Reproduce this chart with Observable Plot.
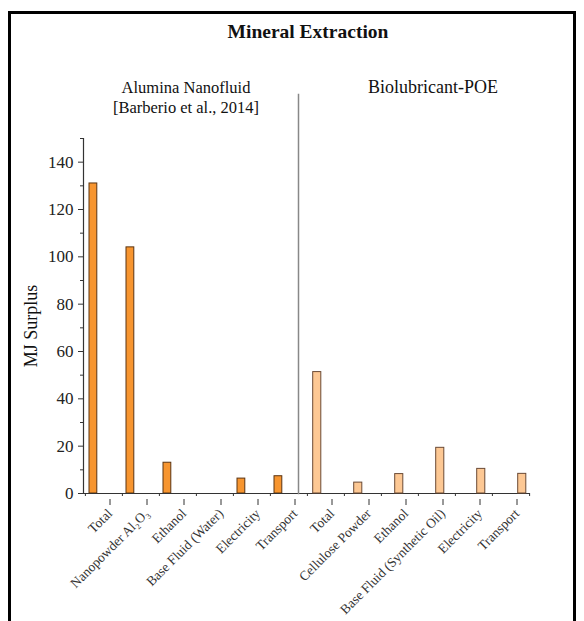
<!DOCTYPE html>
<html><head><meta charset="utf-8">
<script src="https://cdn.jsdelivr.net/npm/d3@7"></script>
<script src="https://cdn.jsdelivr.net/npm/@observablehq/plot@0.6"></script>
<style>
body{margin:0;background:#fff;}
#wrap{position:relative;width:584px;height:621px;overflow:hidden;font-family:"Liberation Serif","Times New Roman",serif;background:#fff;}
.frame{position:absolute;left:8px;top:11px;width:568px;height:700px;border:3px solid #000;box-sizing:border-box;}
.t{position:absolute;white-space:nowrap;transform:translateX(-50%);color:#111;line-height:20px;text-align:center;}
#plots svg{position:absolute;left:0;top:0;background:transparent !important;}
#ylab{position:absolute;left:31px;top:326px;transform:translate(-50%,-50%) rotate(-90deg);font-size:18px;color:#111;white-space:nowrap;}
</style></head>
<body><div id="wrap">
<div class="frame"></div>
<div id="plots"></div>
<div class="t" style="left:308px;top:22px;font-size:19.5px;font-weight:bold;">Mineral Extraction</div>
<div class="t" id="g1" style="left:186px;top:78px;font-size:16.5px;"></div>
<div class="t" id="g2" style="left:433px;top:77px;font-size:18px;"></div>
<div id="ylab">MJ Surplus</div>
</div>
<script>
const groupTitles = ["Alumina Nanofluid", "[Barberio et al., 2014]"];
const groupTitle2 = ["Biolubricant-POE"];
const aluminaCategories = ["Total", "Nanopowder Al\u2082O\u2083", "Ethanol", "Base Fluid (Water)", "Electricity", "Transport"];
const aluminaValues = [131, 104, 13, 0, 6.3, 7.3];
const poeCategories = ["Total", "Cellulose Powder", "Ethanol", "Base Fluid (Synthetic Oil)", "Electricity", "Transport"];
const poeValues = [51.3, 4.6, 8.2, 19.3, 10.4, 8.3];
const yMajorTicks = [0, 20, 40, 60, 80, 100, 120, 140];
const yMinorTicks = [10, 30, 50, 70, 90, 110, 130, 150];
const yLabel = "MJ Surplus";

document.getElementById("g1").innerHTML = groupTitles.join("<br>");
document.getElementById("g2").textContent = groupTitle2[0];
document.getElementById("ylab").textContent = yLabel;

const left = aluminaCategories.map((c, i) => ({key: "A|" + c, label: c, value: aluminaValues[i]}));
const right = poeCategories.map((c, i) => ({key: "B|" + c, label: c, value: poeValues[i]}));
const keys = [...left, ...right].map(d => d.key);
const fmt = d => d.split("|")[1];

const W = 584, H = 621;
const common = {width: W, height: H, marginTop: 138, marginBottom: 128,
  style: {fontFamily: "Liberation Serif, Times New Roman, serif", background: "transparent", overflow: "visible", color: "#222"}};

const main = Plot.plot({
  ...common,
  marginLeft: 83, marginRight: 54,
  x: {type: "band", domain: keys, padding: 0},
  y: {domain: [0, 150]},
  marks: [
    Plot.barY(left, {x: "key", y: "value", fill: "#F7952F", stroke: "#5a3412", strokeWidth: 1, insetLeft: 4, insetRight: 25.2}),
    Plot.ruleY([0], {stroke: "#333", strokeWidth: 1.2}),
    Plot.frame({anchor: "left", stroke: "#333", strokeWidth: 1.2}),
    Plot.axisY({ticks: yMajorTicks, tickSize: 5, tickPadding: 5, fontSize: 17, label: null, stroke: "#333"}),
    Plot.axisY({ticks: yMinorTicks, tickSize: 3, text: null, label: null, stroke: "#333"}),
    Plot.axisX({tickSize: 6, tickRotate: -45, tickFormat: fmt, fontSize: 13.5, label: null, stroke: "#333", fill: "#333", dx: 6, dy: 6}),
    Plot.axisX({tickSize: 3, text: null, label: null, dx: -18.6, stroke: "#333"}),
    Plot.axisX({ticks: [keys[keys.length - 1]], tickSize: 3, text: null, label: null, dx: 18.6, stroke: "#333"})
  ]
});

const over = Plot.plot({
  ...common,
  marginLeft: 298, marginRight: 37.6,
  x: {type: "band", domain: poeCategories, padding: 0, axis: null},
  y: {domain: [0, 150], axis: null},
  marks: [
    Plot.barY(right, {x: "label", y: "value", fill: "#FDC894", stroke: "#6b4a35", strokeWidth: 1, insetLeft: 13.7, insetRight: 19.2}),
    Plot.frame({anchor: "left", stroke: "#888", strokeWidth: 1.5, insetTop: -44})
  ]
});

document.getElementById("plots").append(main, over);
</script>
</body></html>
